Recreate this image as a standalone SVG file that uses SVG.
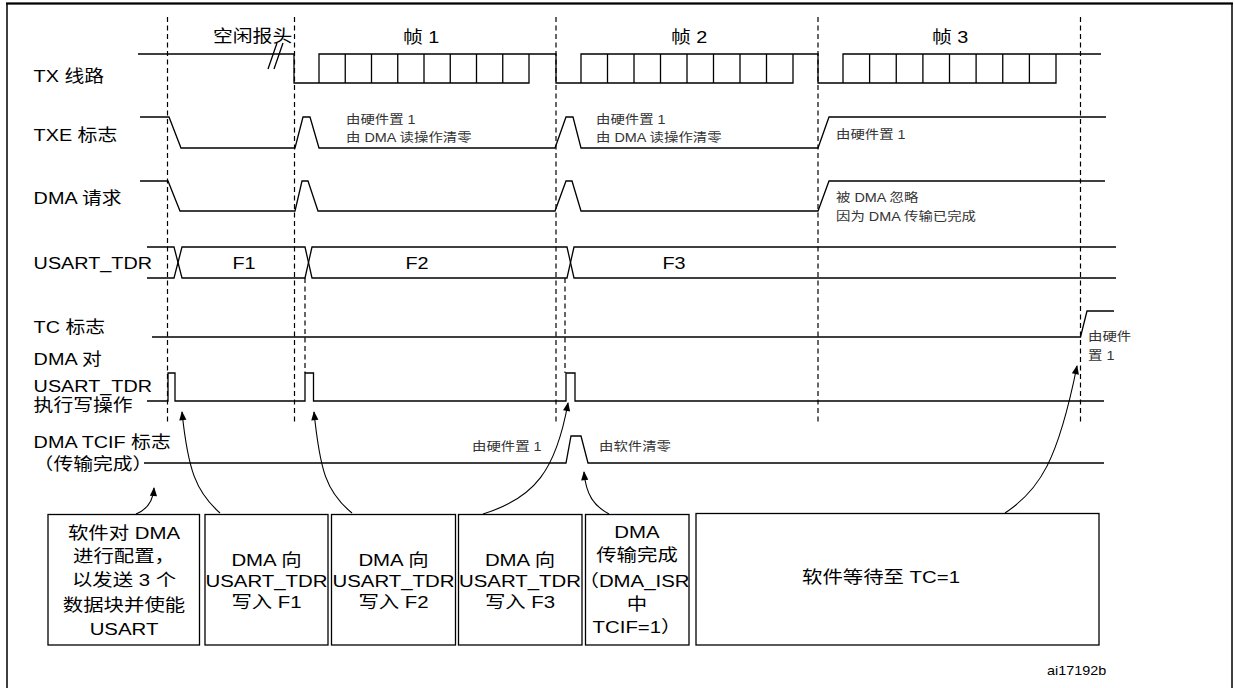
<svg xmlns="http://www.w3.org/2000/svg" width="1235" height="688" viewBox="0 0 1235 688">
<style>
.sig{fill:none;stroke:#000;stroke-width:1.3}
.dash{fill:none;stroke:#000;stroke-width:1.2;stroke-dasharray:5 3.5}
.box{fill:#fff;stroke:#000;stroke-width:1.3}
.conn{fill:none;stroke:#000;stroke-width:1.1;marker-end:url(#ah)}
text{font-family:"Liberation Sans","Noto Sans CJK SC",sans-serif;fill:#000}
.lbl{font-size:16.5px}
.ann{font-size:12px;fill:#333}
.btx{font-size:17px;text-anchor:middle}
.mid{text-anchor:middle}
</style>
<defs>
<marker id="ah" viewBox="0 0 10 10" refX="9" refY="5" markerWidth="10" markerHeight="9" markerUnits="userSpaceOnUse" orient="auto"><path d="M0,1 L10,5 L0,9 Z" fill="#000"/></marker>
</defs>
<rect x="7" y="3.5" width="1225" height="700" fill="none" stroke="#000" stroke-width="1.5"/>
<line x1="6" y1="3.5" x2="1233" y2="3.5" stroke="#000" stroke-width="2.2"/>

<g id="dashes">
<path class="dash" d="M167.5,17 V422 M294.5,17 V422 M556,17 V422 M818,17 V422 M1080.5,17 V422 M305,278 V373 M565,278 V373"/>
</g>

<g id="tx-line">
<path class="sig" d="M138,54 H294 V83 H529 V54 M319,83 V54 H556 V83 H793 V54 M581,83 V54 H818 V83 H1056 V54 M843,83 V54 H1101"/>
<path class="sig" d="M345.25,54 V83 M371.5,54 V83 M397.75,54 V83 M424,54 V83 M450.25,54 V83 M476.5,54 V83 M502.75,54 V83 M607.5,54 V83 M634,54 V83 M660.5,54 V83 M687,54 V83 M713.5,54 V83 M740,54 V83 M766.5,54 V83 M869.6,54 V83 M896.25,54 V83 M922.9,54 V83 M949.5,54 V83 M976.1,54 V83 M1002.75,54 V83 M1029.4,54 V83"/>
<path class="sig" d="M268,69 L277,43 M274,69 L283,43"/>
</g>

<g id="txe">
<path class="sig" d="M140,117 H169 L181,148 H295 L303,117 H310 L319,148 H555 L566,117 H573 L581,148 H818 L829,117 H1106"/>
</g>
<g id="dmareq">
<path class="sig" d="M140,181 H168 L180,211 H295 L302,181 H308 L318,211 H555 L566,181 H572 L581,211 H818 L829,181 H1105"/>
</g>
<g id="tdr">
<path class="sig" d="M147,247 H174 L182,278 H305 L312,247 H567 L574,278 H1116"/>
<path class="sig" d="M147,278 H174 L182,247 H305 L312,278 H567 L574,247 H1116"/>
</g>
<g id="tc">
<path class="sig" d="M152,337 H1080.5 L1087,311 H1114"/>
</g>
<g id="dmawr">
<path class="sig" d="M147,401 H168 V373 H175 V401 H305 V373 H313.5 V401 H566 V373 H575 V401 H1104"/>
</g>
<g id="tcif">
<path class="sig" d="M144,463 H566 L571,436 H581 L588,463 H1104"/>
</g>

<g id="labels">
<text class="lbl" transform="translate(33.6 82) scale(1.2 1)">TX 线路</text>
<text class="lbl" transform="translate(33.6 141) scale(1.2 1)">TXE 标志</text>
<text class="lbl" transform="translate(33.6 204) scale(1.2 1)">DMA 请求</text>
<text class="lbl" transform="translate(33.6 269) scale(1.2 1)">USART_TDR</text>
<text class="lbl" transform="translate(33.6 333) scale(1.2 1)">TC 标志</text>
<text class="lbl" transform="translate(33.6 365) scale(1.2 1)">DMA 对</text>
<text class="lbl" transform="translate(33.6 392) scale(1.2 1)">USART_TDR</text>
<text class="lbl" transform="translate(33.6 411) scale(1.2 1)">执行写操作</text>
<text class="lbl" transform="translate(33.6 448) scale(1.2 1)">DMA TCIF 标志</text>
<text class="lbl" transform="translate(33.6 470) scale(1.2 1)">（传输完成）</text>
<text class="lbl" transform="translate(213 41.5) scale(1.2 1)">空闲报头</text>
<text class="lbl" transform="translate(403 43) scale(1.2 1)">帧 1</text>
<text class="lbl" transform="translate(671 43) scale(1.2 1)">帧 2</text>
<text class="lbl" transform="translate(932 43) scale(1.2 1)">帧 3</text>
<text class="lbl mid" transform="translate(244 269) scale(1.2 1)">F1</text>
<text class="lbl mid" transform="translate(417 269) scale(1.2 1)">F2</text>
<text class="lbl mid" transform="translate(674 269) scale(1.2 1)">F3</text>
</g>

<g id="annotations">
<text class="ann" transform="translate(346 124) scale(1.2 1)">由硬件置 1</text>
<text class="ann" transform="translate(346 142) scale(1.2 1)">由 DMA 读操作清零</text>
<text class="ann" transform="translate(596 124) scale(1.2 1)">由硬件置 1</text>
<text class="ann" transform="translate(596 142) scale(1.2 1)">由 DMA 读操作清零</text>
<text class="ann" transform="translate(836 139) scale(1.2 1)">由硬件置 1</text>
<text class="ann" transform="translate(836 202) scale(1.2 1)">被 DMA 忽略</text>
<text class="ann" transform="translate(836 221) scale(1.2 1)">因为 DMA 传输已完成</text>
<text class="ann" transform="translate(1088 341) scale(1.2 1)">由硬件</text>
<text class="ann" transform="translate(1088 360) scale(1.2 1)">置 1</text>
<text class="ann" transform="translate(472 451) scale(1.2 1)">由硬件置 1</text>
<text class="ann" transform="translate(599 451) scale(1.2 1)">由软件清零</text>
<text class="ann" style="fill:#000" transform="translate(1047 675) scale(1.2 1)">ai17192b</text>
</g>

<g id="box1">
<rect class="box" x="48" y="514.5" width="151.5" height="130.5"/>
<text class="btx" transform="translate(124 539) scale(1.2 1)">软件对 DMA</text>
<text class="btx" transform="translate(124 562) scale(1.2 1)">进行配置，</text>
<text class="btx" transform="translate(124 586) scale(1.2 1)">以发送 3 个</text>
<text class="btx" transform="translate(124 611) scale(1.2 1)">数据块并使能</text>
<text class="btx" transform="translate(124 635) scale(1.2 1)">USART</text>
</g>
<g id="box2">
<rect class="box" x="205" y="514.5" width="123" height="130.5"/>
<text class="btx" transform="translate(266.5 566) scale(1.2 1)">DMA 向</text>
<text class="btx" transform="translate(266.5 587) scale(1.2 1)">USART_TDR</text>
<text class="btx" transform="translate(266.5 608) scale(1.2 1)">写入 F1</text>
</g>
<g id="box3">
<rect class="box" x="331.5" y="514.5" width="124" height="130.5"/>
<text class="btx" transform="translate(393.5 566) scale(1.2 1)">DMA 向</text>
<text class="btx" transform="translate(393.5 587) scale(1.2 1)">USART_TDR</text>
<text class="btx" transform="translate(393.5 608) scale(1.2 1)">写入 F2</text>
</g>
<g id="box4">
<rect class="box" x="458.5" y="514.5" width="123.5" height="130.5"/>
<text class="btx" transform="translate(520 566) scale(1.2 1)">DMA 向</text>
<text class="btx" transform="translate(520 587) scale(1.2 1)">USART_TDR</text>
<text class="btx" transform="translate(520 608) scale(1.2 1)">写入 F3</text>
</g>
<g id="box5">
<rect class="box" x="585.5" y="514.5" width="103.5" height="130.5"/>
<text class="btx" transform="translate(637 538) scale(1.2 1)">DMA</text>
<text class="btx" transform="translate(637 561) scale(1.2 1)">传输完成</text>
<text class="btx" transform="translate(634 587) scale(1.2 1)">（DMA_ISR</text>
<text class="btx" transform="translate(637 610) scale(1.2 1)">中</text>
<text class="btx" transform="translate(637 633) scale(1.2 1)">TCIF=1）</text>
</g>
<g id="box6">
<rect class="box" x="696" y="513.5" width="403" height="131.5"/>
<text class="btx" transform="translate(881 583) scale(1.2 1)">软件等待至 TC=1</text>
</g>

<g id="connectors">
<path class="conn" d="M136,514 C146,510 153,503 154,488"/>
<path class="conn" d="M220,513 C196,492 188,470 182,412"/>
<path class="conn" d="M352,513 C326,492 320,470 314,412"/>
<path class="conn" d="M483,514 C535,498 556,470 568,403"/>
<path class="conn" d="M609,514 C594,506 586,495 584,472"/>
<path class="conn" d="M1005,513 C1040,490 1058,460 1077,366"/>
</g>
</svg>
